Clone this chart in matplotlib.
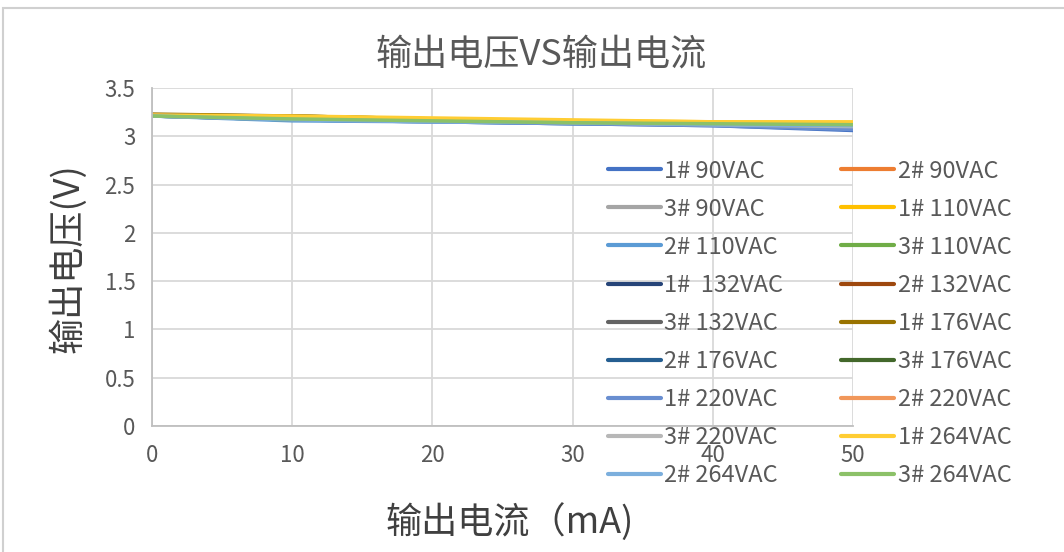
import matplotlib.pyplot as plt
from matplotlib.patches import Rectangle

plt.rcParams['font.family'] = ['Noto Sans CJK SC', 'DejaVu Sans']

current_ma = [0, 10, 20, 30, 40, 50]

labels = [
    "1# 90VAC", "2# 90VAC", "3# 90VAC",
    "1# 110VAC", "2# 110VAC", "3# 110VAC",
    "1#  132VAC", "2# 132VAC", "3# 132VAC",
    "1# 176VAC", "2# 176VAC", "3# 176VAC",
    "1# 220VAC", "2# 220VAC", "3# 220VAC",
    "1# 264VAC", "2# 264VAC", "3# 264VAC",
]

colors = [
    "#4472C4", "#ED7D31", "#A5A5A5", "#FFC000", "#5B9BD5", "#70AD47",
    "#264478", "#9E480E", "#636363", "#997300", "#255E91", "#43682B",
    "#698ED0", "#F1975A", "#B7B7B7", "#FFCD33", "#7CAFDD", "#8CC168",
]

voltages = [
    [3.21, 3.17, 3.15, 3.13, 3.11, 3.06],
    [3.22, 3.20, 3.17, 3.15, 3.13, 3.11],
    [3.21, 3.18, 3.16, 3.14, 3.12, 3.09],
    [3.22, 3.21, 3.18, 3.16, 3.15, 3.14],
    [3.21, 3.16, 3.15, 3.13, 3.12, 3.10],
    [3.21, 3.17, 3.16, 3.14, 3.13, 3.12],
    [3.22, 3.21, 3.18, 3.15, 3.13, 3.08],
    [3.22, 3.20, 3.17, 3.15, 3.13, 3.11],
    [3.22, 3.21, 3.17, 3.15, 3.12, 3.08],
    [3.23, 3.21, 3.18, 3.16, 3.14, 3.13],
    [3.22, 3.20, 3.17, 3.15, 3.13, 3.09],
    [3.22, 3.20, 3.17, 3.15, 3.13, 3.12],
    [3.21, 3.17, 3.15, 3.13, 3.11, 3.07],
    [3.22, 3.20, 3.17, 3.15, 3.13, 3.12],
    [3.21, 3.18, 3.16, 3.14, 3.12, 3.10],
    [3.22, 3.21, 3.19, 3.17, 3.15, 3.15],
    [3.21, 3.17, 3.15, 3.14, 3.12, 3.11],
    [3.21, 3.18, 3.16, 3.14, 3.13, 3.12],
]

text_gray = "#595959"
grid_gray = "#D9D9D9"

fig = plt.figure(figsize=(10.64, 5.52), dpi=100)
# outer chart border
fig.patches.append(Rectangle((3 / 1064, -0.01), 1.2, 1.0 - 8 / 552 + 0.01,
                             transform=fig.transFigure, fill=False,
                             edgecolor="#D0D0D0", linewidth=1.5))

ax = fig.add_axes([152 / 1064, 1 - 426 / 552, (853 - 152) / 1064, (426 - 88) / 552])

lines = []
for v, c, lab in zip(voltages, colors, labels):
    ln, = ax.plot(current_ma, v, color=c, linewidth=2.5, label=lab,
                  solid_capstyle="round")
    lines.append(ln)

ax.set_xlim(0, 50)
ax.set_ylim(0, 3.5)
ax.set_xticks(current_ma)
ax.set_yticks([0, 0.5, 1, 1.5, 2, 2.5, 3, 3.5])
ax.set_yticklabels(["0", "0.5", "1", "1.5", "2", "2.5", "3", "3.5"])
ax.grid(True, color=grid_gray, linewidth=1.3)
ax.set_axisbelow(True)
for s in ["top", "right"]:
    ax.spines[s].set_visible(False)
ax.spines["left"].set_color("#BFBFBF")
ax.spines["bottom"].set_color("#BFBFBF")
ax.spines["left"].set_linewidth(1.3)
ax.spines["bottom"].set_linewidth(1.3)
ax.tick_params(axis="y", length=0, labelsize=16, labelcolor=text_gray, pad=12)
ax.tick_params(axis="x", length=0, labelsize=16, labelcolor=text_gray, pad=13)

fig.text(541 / 1064, 1 - 55 / 552, "输出电压VS输出电流", ha="center", va="center",
         fontsize=26, color=text_gray)
fig.text(68 / 1064, 1 - 258 / 552, "输出电压(V)", rotation=90, ha="center", va="center",
         fontsize=26, color="#404040")
fig.text(510 / 1064, 1 - 522 / 552, "输出电流（mA)", ha="center", va="center",
         fontsize=26, color="#404040")

# row-wise order in a two column legend
order = list(range(0, 18, 2)) + list(range(1, 18, 2))
leg = fig.legend([lines[i] for i in order], [labels[i] for i in order],
                 loc="upper left", bbox_to_anchor=(591 / 1064, 1 - 143 / 552),
                 ncol=2, frameon=False, fontsize=17, labelcolor=text_gray,
                 handlelength=2.25, handletextpad=0.15, columnspacing=2.45,
                 labelspacing=0.64, borderpad=0.2)
for h in leg.legend_handles:
    h.set_linewidth(3)

fig.savefig("out.png", dpi=100)
